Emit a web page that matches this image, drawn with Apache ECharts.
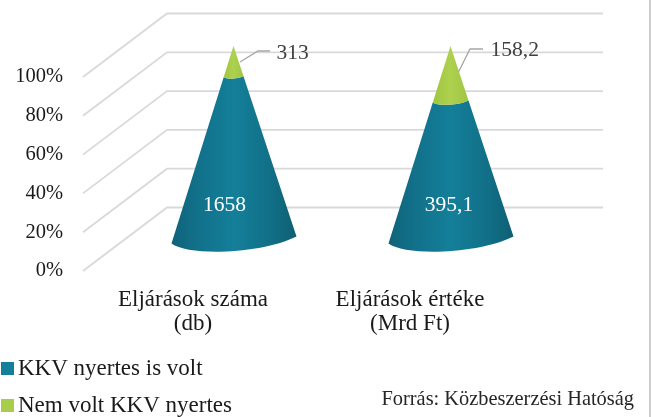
<!DOCTYPE html>
<html><head><meta charset="utf-8">
<style>html,body{margin:0;padding:0;background:#fff}#c{width:651px;height:417px}</style>
<script src="https://cdn.jsdelivr.net/npm/echarts@6/dist/echarts.min.js"></script>
</head><body><div id="c"></div>
<script>
const categories = ['Eljárások száma\n(db)', 'Eljárások értéke\n(Mrd Ft)'];
const kkvValues = [1658, 395.1];
const nemValues = [313, 158.2];
const kkvLabels = ['1658', '395,1'];
const nemLabels = ['313', '158,2'];
const yTicks = [0, 20, 40, 60, 80, 100];
const seriesNames = ['KKV nyertes is volt', 'Nem volt KKV nyertes'];

const FONT = '"Liberation Serif", serif';
const DEPTH = { x: 84, y: -63.5 };
const MID = { x: 42, y: -31 };
const BACK_EXTRA = 2;
const LABEL_VALUE = 18;
const kkvLabelDx = [-9, -1.5];
const leaders = [
  { pts: [[6.5, 16], [24.5, 5], [36.5, 5]], text: [43, 7] },
  { pts: [[8, 26], [19.5, 3], [32.5, 3]], text: [40, 4] }
];

function share(i) { return 100 * kkvValues[i] / (kkvValues[i] + nemValues[i]); }

function conePath(api, idx, fromV, toV) {
  const base = api.coord([idx, 0]); const apex = api.coord([idx, 100]);
  const cx = base[0] + MID.x, by = base[1] + MID.y, ay = apex[1] + MID.y;
  const h = by - ay;
  const ring = v => {
    const s = 1 - v / 100, y = by - h * v / 100;
    const p = (dx, dy) => [cx + dx * s, y + dy * s];
    return { l: p(-62, 3.5), c1: p(-44.5, 16.5), c2: p(27.5, 14), r: p(63, -3.5) };
  };
  const f = n => n.toFixed(2);
  const b = ring(fromV);
  let d = `M${f(b.l[0])} ${f(b.l[1])}C${f(b.c1[0])} ${f(b.c1[1])} ${f(b.c2[0])} ${f(b.c2[1])} ${f(b.r[0])} ${f(b.r[1])}`;
  if (toV >= 100) {
    d += `L${f(cx)} ${f(ay)}Z`;
  } else {
    const t = ring(toV);
    d += `L${f(t.r[0])} ${f(t.r[1])}C${f(t.c2[0])} ${f(t.c2[1])} ${f(t.c1[0])} ${f(t.c1[1])} ${f(t.l[0])} ${f(t.l[1])}Z`;
  }
  return d;
}
function grad(stops) {
  return new echarts.graphic.LinearGradient(0, 0, 1, 0, stops.map(c => ({ offset: c[0], color: c[1] })));
}
const tealFill = () => grad([[0, '#0f6379'], [0.2, '#12708a'], [0.5, '#147f99'], [0.8, '#116f87'], [1, '#0e5f72']]);
const greenFill = () => grad([[0, '#9fc63f'], [0.5, '#aed04f'], [1, '#a0c443']]);

const txt = (x, y, text, fill, align) => ({
  type: 'text', silent: true,
  style: { x, y, text, fill, font: '21.5px ' + FONT, align: align || 'left', verticalAlign: 'middle' }
});

const gridSeries = {
  type: 'custom', silent: true, z: 1, clip: false, legendHoverLink: false,
  data: yTicks.map(v => [0, v]),
  encode: { y: 1 },
  renderItem(params, api) {
    const y = api.coord([0, api.value(1)])[1];
    const x0 = params.coordSys.x, w = params.coordSys.width;
    return {
      type: 'polyline', silent: true,
      shape: { points: [[x0, y], [x0 + DEPTH.x, y + DEPTH.y], [x0 + w + DEPTH.x + BACK_EXTRA, y + DEPTH.y]] },
      style: { stroke: '#d9d9d9', lineWidth: 1.8, fill: null }
    };
  }
};

const kkvSeries = {
  name: seriesNames[0], type: 'custom', z: 3, clip: false,
  itemStyle: { color: '#147f99' },
  data: categories.map((c, i) => [i, share(i)]),
  renderItem(params, api) {
    const i = params.dataIndex, v = api.value(1);
    const apex = api.coord([i, 100]);
    const lab = api.coord([i, LABEL_VALUE]);
    return {
      type: 'group', children: [
        { type: 'path', shape: { pathData: conePath(api, i, 0, v) }, style: { fill: tealFill() } },
        txt(apex[0] + MID.x + kkvLabelDx[i], lab[1] + MID.y, kkvLabels[i], '#ffffff', 'center')
      ]
    };
  }
};

const nemSeries = {
  name: seriesNames[1], type: 'custom', z: 4, clip: false,
  itemStyle: { color: '#a8cc4c' },
  data: categories.map((c, i) => [i, share(i), 100]),
  renderItem(params, api) {
    const i = params.dataIndex, v = api.value(1);
    const apex = api.coord([i, 100]);
    const ax = apex[0] + MID.x, ay = apex[1] + MID.y;
    const L = leaders[i];
    return {
      type: 'group', children: [
        { type: 'path', shape: { pathData: conePath(api, i, v, 100) }, style: { fill: greenFill() } },
        { type: 'polyline', shape: { points: L.pts.map(p => [ax + p[0], ay + p[1]]) }, style: { stroke: '#a6a6a6', lineWidth: 1.3, fill: null } },
        txt(ax + L.text[0], ay + L.text[1], nemLabels[i], '#404040')
      ]
    };
  }
};

const chart = echarts.init(document.getElementById('c'), null, { renderer: 'canvas' });
chart.setOption({
  animation: false,
  backgroundColor: '#ffffff',
  grid: { left: 83, width: 434, top: 77, height: 194, containLabel: false },
  xAxis: {
    type: 'category', data: categories,
    axisLine: { show: false }, axisTick: { show: false }, splitLine: { show: false },
    axisLabel: { color: '#1a1a1a', fontFamily: FONT, fontSize: 23, lineHeight: 24, margin: 17, padding: [0, 0, 0, 3] }
  },
  yAxis: {
    type: 'value', min: 0, max: 100, interval: 20,
    axisLine: { show: false }, axisTick: { show: false }, splitLine: { show: false },
    axisLabel: { formatter: '{value}%', color: '#1a1a1a', fontFamily: FONT, fontSize: 20.5, margin: 20, padding: [2, 0, 0, 0] }
  },
  legend: {
    data: seriesNames, orient: 'vertical', left: 1, top: 357, icon: 'rect',
    itemWidth: 13, itemHeight: 13, itemGap: 14, selectedMode: false, padding: 0,
    textStyle: { color: '#1a1a1a', fontFamily: FONT, fontSize: 23, padding: [0, 0, 0, -1] }
  },
  graphic: [
    { type: 'text', right: 17, top: 390, silent: true, style: { text: 'Forrás: Közbeszerzési Hatóság', fill: '#262626', font: '20.4px ' + FONT } },
    { type: 'rect', left: 649, top: 0, silent: true, shape: { width: 2, height: 417 }, style: { fill: '#cccccc' } }
  ],
  series: [gridSeries, kkvSeries, nemSeries]
});
</script></body></html>
